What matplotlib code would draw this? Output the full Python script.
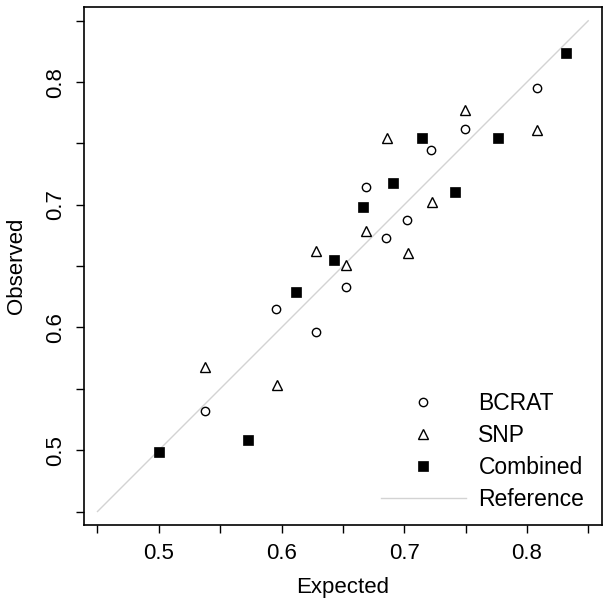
import matplotlib
matplotlib.use("Agg")
import matplotlib.pyplot as plt
import numpy as np

# expected vs observed
bcrat_exp = [0.5375, 0.5954, 0.6281, 0.6525, 0.6688, 0.6852, 0.7023, 0.7219, 0.7496, 0.8083]
bcrat_obs = [0.5323, 0.6154, 0.5967, 0.6333, 0.7147, 0.6732, 0.6879, 0.7449, 0.7620, 0.7954]

snp_exp = [0.5375, 0.5962, 0.6281, 0.6525, 0.6688, 0.6860, 0.7031, 0.7227, 0.7496, 0.8083]
snp_obs = [0.5674, 0.5535, 0.6627, 0.6512, 0.6790, 0.7547, 0.6610, 0.7026, 0.7775, 0.7612]

comb_exp = [0.5000, 0.5726, 0.6117, 0.6427, 0.6664, 0.6909, 0.7145, 0.7414, 0.7765, 0.8317]
comb_obs = [0.4981, 0.5079, 0.6293, 0.6553, 0.6985, 0.7180, 0.7547, 0.7107, 0.7547, 0.8236]

ref_line = [0.45, 0.85]
ticks = [0.45, 0.50, 0.55, 0.60, 0.65, 0.70, 0.75, 0.80, 0.85]
tick_labels = ["", "0.5", "", "0.6", "", "0.7", "", "0.8", ""]

plt.rcParams["font.family"] = ["Liberation Sans", "DejaVu Sans"]

W, H = 610, 609
fig = plt.figure(figsize=(W / 100, H / 100), dpi=100)
ax = fig.add_axes([84 / W, 1 - 525 / H, (601.7 - 84) / W, (525 - 7.3) / H])

ax.plot(ref_line, ref_line, color="#d3d3d3", lw=1.0, label="Reference", zorder=1)
ax.plot(bcrat_exp, bcrat_obs, ls="none", marker="o", ms=6, mfc="white", mec="black",
        mew=1.0, label="BCRAT", zorder=3)
ax.plot(snp_exp, snp_obs, ls="none", marker="^", ms=7.2, mfc="white", mec="black",
        mew=1.0, label="SNP", zorder=3)
ax.plot(comb_exp, comb_obs, ls="none", marker="s", ms=7.4, mfc="black", mec="black",
        mew=0.5, label="Combined", zorder=3)

ax.set_xlim(0.439, 0.861)
ax.set_ylim(0.439, 0.861)
ax.set_xticks(ticks)
ax.set_xticklabels(tick_labels)
ax.set_yticks(ticks)
ax.set_yticklabels(tick_labels, rotation=90, va="center")
ax.tick_params(direction="out", length=6, width=1, labelsize=16, pad=7, colors="black")
for s in ax.spines.values():
    s.set_linewidth(1.2)

ax.set_xlabel("Expected", fontsize=16, labelpad=9)
ax.set_ylabel("Observed", fontsize=16, labelpad=13)

handles, labels = ax.get_legend_handles_labels()
order = [1, 2, 3, 0]
ax.legend([handles[i] for i in order], [labels[i] for i in order],
          loc="upper left", bbox_to_anchor=(381 / W, 1 - 392 / H),
          bbox_transform=fig.transFigure, frameon=False, fontsize=16.5,
          handlelength=3.7, handletextpad=0.55, labelspacing=0.39,
          borderpad=0, borderaxespad=0, numpoints=1)

fig.savefig("out.png", dpi=100)
